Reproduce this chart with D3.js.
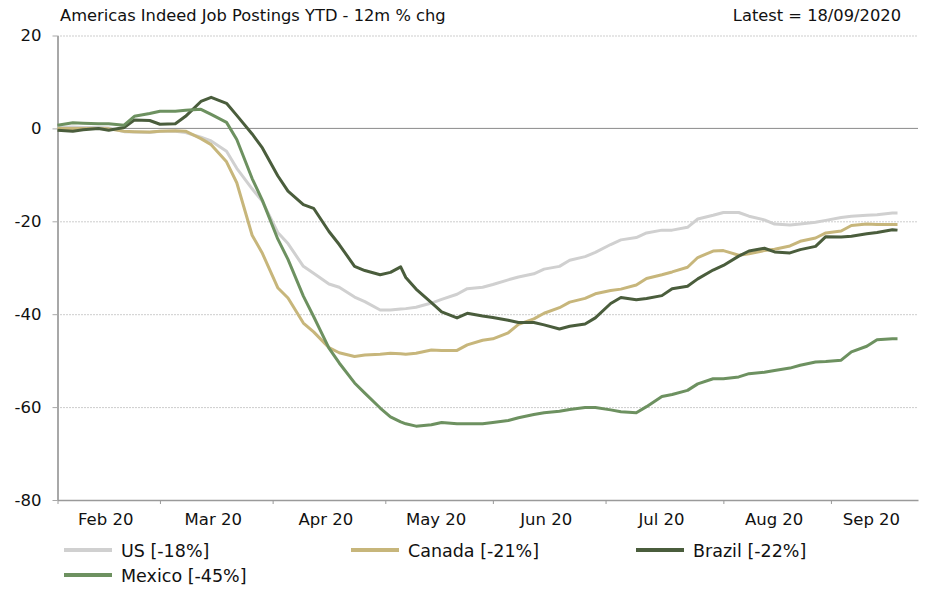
<!DOCTYPE html>
<html>
<head>
<meta charset="utf-8">
<script src="https://cdn.jsdelivr.net/npm/d3@7"></script>
<style>
  body { margin: 0; background: #fff; }
  svg { display: block; font-family: 'DejaVu Sans', sans-serif; }
</style>
</head>
<body>
<svg width="928" height="591"></svg>
<script>
// sample dates (Mondays and Thursdays, one extra mid-week point, then the last day)
const dates = [
  '2020-02-03','2020-02-06','2020-02-10','2020-02-13','2020-02-17','2020-02-20','2020-02-24','2020-02-27',
  '2020-03-02','2020-03-05','2020-03-09','2020-03-12','2020-03-16','2020-03-19','2020-03-23','2020-03-26',
  '2020-03-30','2020-04-02','2020-04-06','2020-04-09','2020-04-13','2020-04-16','2020-04-20','2020-04-23',
  '2020-04-27','2020-04-30','2020-05-04','2020-05-06','2020-05-07','2020-05-11','2020-05-14','2020-05-18','2020-05-21',
  '2020-05-25','2020-05-28','2020-06-01','2020-06-04','2020-06-08','2020-06-11','2020-06-15','2020-06-18',
  '2020-06-22','2020-06-25','2020-06-29','2020-07-02','2020-07-06','2020-07-09','2020-07-13','2020-07-16',
  '2020-07-20','2020-07-23','2020-07-27','2020-07-30','2020-08-03','2020-08-06','2020-08-10','2020-08-13',
  '2020-08-17','2020-08-20','2020-08-24','2020-08-27','2020-08-31','2020-09-03','2020-09-07','2020-09-10',
  '2020-09-14','2020-09-17','2020-09-18'
];

const us = [
  0.2, 0.3, 0.2, 0.2, 0.1, -0.7, -0.8, -0.9,
  -0.6, -0.6, -0.9, -1.9, -2.7, -4.9, -8.6, -13.0,
  -15.7, -22.4, -24.8, -29.7, -31.2, -33.5, -34.2, -36.3,
  -37.3, -39.1, -39.1, -38.9, -38.8, -38.5, -37.6, -36.8, -35.7,
  -34.5, -34.2, -33.6, -32.6, -32.0, -31.3, -30.3, -29.7,
  -28.4, -27.6, -26.7, -25.0, -24.0, -23.5, -22.5, -21.9,
  -21.9, -21.3, -19.5, -18.7, -18.1, -18.1, -18.9, -19.7,
  -20.6, -20.8, -20.6, -20.2, -19.8, -19.2, -18.9, -18.7,
  -18.6, -18.2, -18.2
];

const canada = [
  0.0, 0.0, 0.0, 0.0, -0.1, -0.6, -0.7, -0.8,
  -0.6, -0.5, -0.6, -2.2, -3.5, -7.2, -11.7, -23.0,
  -26.9, -34.3, -36.5, -41.9, -43.8, -47.2, -48.3, -49.1,
  -48.8, -48.6, -48.4, -48.5, -48.6, -48.4, -47.7, -47.8, -47.8,
  -46.6, -45.6, -45.3, -44.0, -42.2, -41.0, -39.8, -38.6,
  -37.4, -36.6, -35.6, -34.9, -34.6, -33.7, -32.3, -31.5,
  -30.9, -29.9, -27.8, -26.4, -26.3, -27.3, -27.0, -26.3,
  -26.0, -25.3, -24.3, -23.6, -22.5, -22.1, -20.9, -20.6,
  -20.7, -20.7, -20.7
];

const brazil = [
  -0.4, -0.6, -0.3, 0.0, -0.4, 0.2, 1.8, 1.7,
  0.9, 1.0, 2.6, 5.8, 6.7, 5.4, 2.8, -1.2,
  -4.2, -10.2, -13.5, -16.4, -17.2, -22.2, -25.0, -29.7,
  -30.6, -31.5, -31.0, -29.8, -32.1, -34.6, -37.5, -39.5, -40.8,
  -39.8, -40.4, -40.7, -41.3, -41.8, -41.8, -42.3, -43.2,
  -42.6, -42.1, -40.8, -37.7, -36.4, -36.9, -36.6, -36.0,
  -34.5, -34.0, -32.4, -30.5, -29.5, -27.5, -26.4, -25.8,
  -26.6, -26.8, -26.1, -25.4, -23.3, -23.4, -23.2, -22.7,
  -22.4, -21.8, -21.9
];

const mexico = [
  0.7, 1.2, 1.1, 1.0, 1.0, 0.7, 2.6, 3.2,
  3.7, 3.7, 3.9, 4.1, 3.0, 1.3, -2.4, -10.8,
  -15.5, -23.8, -28.2, -36.1, -40.5, -47.3, -50.5, -54.8,
  -57.0, -60.2, -62.1, -63.2, -63.6, -64.1, -63.8, -63.3, -63.6,
  -63.6, -63.6, -63.3, -62.9, -62.3, -61.6, -61.2, -60.9,
  -60.5, -60.1, -60.1, -60.6, -61.0, -61.2, -59.9, -57.7,
  -57.3, -56.4, -55.0, -53.9, -53.9, -53.5, -52.8, -52.5,
  -52.1, -51.6, -51.0, -50.3, -50.2, -49.9, -48.1, -46.9,
  -45.5, -45.3, -45.3
];

const seriesNames = ['US [-18%]', 'Canada [-21%]', 'Brazil [-22%]', 'Mexico [-45%]'];
const seriesColors = ['#d0d0d0', '#c7b67b', '#4a5d3c', '#6d9160'];
const monthStarts = ['2020-02-01','2020-03-01','2020-04-01','2020-05-01','2020-06-01','2020-07-01','2020-08-01','2020-09-01'];
const monthLabels = ['Feb 20','Mar 20','Apr 20','May 20','Jun 20','Jul 20','Aug 20','Sep 20'];
const yTicks = [20, 0, -20, -40, -60, -80];
const title = 'Americas Indeed Job Postings YTD - 12m % chg';
const latest = 'Latest = 18/09/2020';

const svg = d3.select('svg');
const parse = d3.utcParse('%Y-%m-%d');
const origin = parse('2020-02-01');
// business-day index (the chart's x axis skips weekends)
const bday = (d) => d3.utcDay.range(origin, d).filter((t) => t.getUTCDay() % 6 !== 0).length;
const lastIndex = 168;

const margin = { top: 35.5, right: 10, bottom: 91, left: 57.5 };
const width = 928;
const height = 591;

const xScale = d3.scaleLinear().domain([0, lastIndex]).range([margin.left, width - margin.right]);
const yScale = d3.scaleLinear().domain([-80, 20]).range([height - margin.bottom, margin.top]);

const xs = dates.map((s) => bday(parse(s)));
const table = [us, canada, brazil, mexico].map((vals, i) => ({
  name: seriesNames[i],
  color: seriesColors[i],
  values: vals.map((v, j) => ({ x: xs[j], y: v }))
}));

// gridlines
const grid = svg.append('g');
grid.selectAll('line')
  .data(yTicks.filter((t) => t !== 0 && t !== -80))
  .enter()
  .append('line')
  .attr('x1', margin.left)
  .attr('x2', width - margin.right)
  .attr('y1', (d) => yScale(d) + 0.5)
  .attr('y2', (d) => yScale(d) + 0.5)
  .attr('stroke', '#9a9a9a')
  .attr('stroke-dasharray', '1,2');

grid.append('line')
  .attr('x1', margin.left).attr('x2', width - margin.right)
  .attr('y1', yScale(0)).attr('y2', yScale(0))
  .attr('stroke', '#8a8a8a').attr('stroke-width', 1);

// y axis
const yAxis = d3.axisLeft(yScale).tickValues(yTicks).tickSize(5).tickSizeOuter(0).tickPadding(11).tickFormat((d) => String(d));
const gy = svg.append('g').attr('transform', `translate(${margin.left},0)`).call(yAxis);
gy.select('.domain').attr('stroke', '#a8a8a8').attr('stroke-width', 2);
gy.selectAll('.tick line').attr('stroke', '#a8a8a8');
gy.selectAll('.tick text').attr('font-size', 16.5).attr('fill', '#111').attr('font-family', "'DejaVu Sans', sans-serif");

// x axis
const tickIdx = monthStarts.map((s) => bday(parse(s)));
const xAxis = d3.axisBottom(xScale).tickValues(tickIdx).tickSize(4).tickSizeOuter(0).tickFormat('');
const gx = svg.append('g').attr('transform', `translate(0,${yScale(-80)})`).call(xAxis);
gx.select('.domain').attr('stroke', '#9a9a9a').attr('stroke-width', 1.5);
gx.selectAll('.tick line').attr('stroke', '#9a9a9a');

svg.append('g').selectAll('text')
  .data(monthLabels)
  .enter()
  .append('text')
  .attr('x', (d, i) => (xScale(tickIdx[i]) + xScale(i < tickIdx.length - 1 ? tickIdx[i + 1] : lastIndex)) / 2 - 3)
  .attr('y', yScale(-80) + 25)
  .attr('text-anchor', 'middle')
  .attr('font-size', 16.5)
  .attr('fill', '#111')
  .text((d) => d);

// lines
const line = d3.line().x((d) => xScale(d.x)).y((d) => yScale(d.y));
svg.append('g').selectAll('path')
  .data(table)
  .enter()
  .append('path')
  .attr('d', (d) => line(d.values))
  .attr('fill', 'none')
  .attr('stroke', (d) => d.color)
  .attr('stroke-width', 3)
  .attr('stroke-linejoin', 'round');

// title
svg.append('text').attr('x', 60).attr('y', 21).attr('font-size', 16.3).attr('fill', '#111').text(title);
svg.append('text').attr('x', 901).attr('y', 21).attr('text-anchor', 'end').attr('font-size', 16.3).attr('fill', '#111').text(latest);

// legend
const legendPos = [[64, 550], [351, 550], [636, 550], [64, 575]];
const legend = svg.append('g').selectAll('g')
  .data(table)
  .enter()
  .append('g')
  .attr('transform', (d, i) => `translate(${legendPos[i][0]},${legendPos[i][1]})`);
legend.append('line').attr('x1', 0).attr('x2', 48).attr('stroke', (d) => d.color).attr('stroke-width', 4);
legend.append('text').attr('x', 57).attr('y', 6.5).attr('font-size', 17.5).attr('fill', '#111').text((d) => d.name);
</script>
</body>
</html>
